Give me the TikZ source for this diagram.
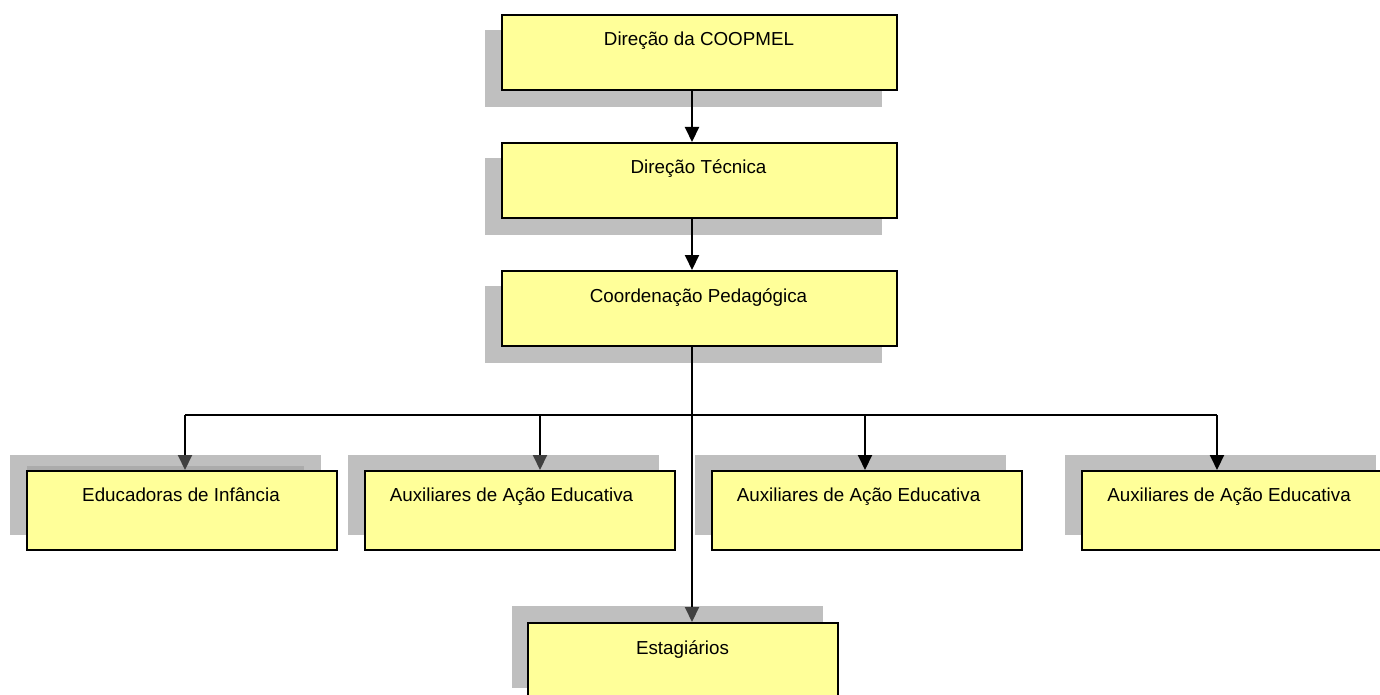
\documentclass[tikz,border=0pt]{standalone}
\usepackage{fontspec}
\setmainfont{Liberation Sans}
\usetikzlibrary{arrows.meta,calc}
\definecolor{boxfill}{HTML}{FFFF99}
\definecolor{shadowgray}{HTML}{BFBFBF}
\definecolor{bandgray}{HTML}{ABABAB}
\definecolor{tipgray}{HTML}{404040}
\tikzset{
  boxshape/.style={draw=black, line width=2pt, fill=boxfill, rectangle, inner sep=0pt, minimum height=77pt},
  topbox/.style={boxshape, minimum width=395pt, minimum height=75pt},
  rowbox/.style={boxshape, minimum width=310pt, minimum height=79pt},
  lbl/.style={anchor=base, inner sep=0pt, font=\fontsize{18.8}{22}\selectfont},
  conn/.style={line width=2pt, draw=black},
  arrblack/.style={conn, -{Triangle[width=14pt,length=15pt]}},
  arrgray/.style={conn, -{Triangle[width=14pt,length=15pt,color=tipgray]}}
}
\begin{document}
\begin{tikzpicture}[x=1pt,y=-1pt]
\clip (0,0) rectangle (1380,695);
\fill[white] (0,0) rectangle (1380,695);
% shadows
\fill[shadowgray] (485,30) rectangle (882,107);
\fill[shadowgray] (485,158) rectangle (882,235);
\fill[shadowgray] (485,286) rectangle (882,363);
\fill[shadowgray] (10,455) rectangle (321,535);
\fill[bandgray] (27,466) rectangle (304,471);
\fill[shadowgray] (348,455) rectangle (659,535);
\fill[shadowgray] (695,455) rectangle (1006,535);
\fill[shadowgray] (1065,455) rectangle (1376,535);
\fill[shadowgray] (512,606) rectangle (823,688);
% boxes
\node[topbox] (dir) at (699.5,52.5) {};
\node[topbox] (tec) at (699.5,180.5) {};
\node[topbox] (coord) at (699.5,308.5) {};
\node[rowbox] (edu) at (182,510.5) {};
\node[rowbox] (aux1) at (519.5,510.5) {};
\node[rowbox] (aux2) at (866.5,510.5) {};
\node[rowbox] (aux3) at (1237,510.5) {};
\node[rowbox] (est) at (683,662.5) {};
% labels
\node[lbl] at ($(dir.north)+(-0.5,32)$) {Direção da COOPMEL};
\node[lbl] at ($(tec.north)+(-1,32)$) {Direção Técnica};
\node[lbl] at ($(coord.north)+(-1,32)$) {Coordenação Pedagógica};
\node[lbl] at ($(edu.north)+(-1,31)$) {Educadoras de Infância};
\node[lbl] at ($(aux1.north)+(-8,31)$) {Auxiliares de Ação Educativa};
\node[lbl] at ($(aux2.north)+(-8,31)$) {Auxiliares de Ação Educativa};
\node[lbl] at ($(aux3.north)+(-8,31)$) {Auxiliares de Ação Educativa};
\node[lbl] at ($(est.north)+(-0.5,32)$) {Estagiários};
% connectors
\coordinate (spine) at (692,415);
\coordinate (b1) at (185,415);
\coordinate (b2) at (540,415);
\coordinate (b3) at (865,415);
\coordinate (b4) at (1217,415);
\draw[arrblack] (dir.south -| spine) -- (tec.north -| spine);
\draw[arrblack] (tec.south -| spine) -- (coord.north -| spine);
\draw[conn] (b1) -- (b4);
\draw[arrgray] (coord.south -| spine) -- (est.north -| spine);
\draw[arrgray] (b1) -- (edu.north -| b1);
\draw[arrgray] (b2) -- (aux1.north -| b2);
\draw[arrblack] (b3) -- (aux2.north -| b3);
\draw[arrblack] (b4) -- (aux3.north -| b4);
\end{tikzpicture}
\end{document}
